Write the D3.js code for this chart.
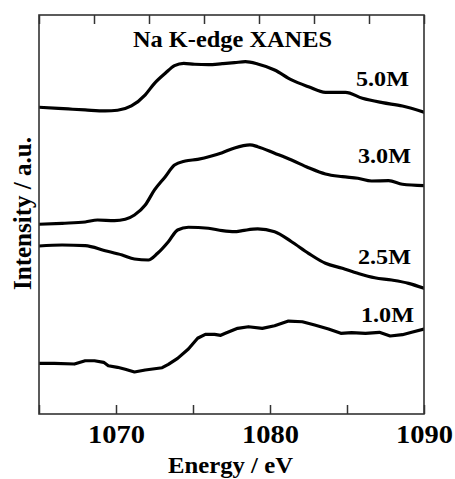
<!DOCTYPE html>
<html>
<head>
<meta charset="utf-8">
<script src="https://cdn.jsdelivr.net/npm/d3@7/dist/d3.min.js"></script>
<style>
  html, body { margin: 0; padding: 0; background: #fff; }
  svg { display: block; }
  text { font-family: "Liberation Serif", "Times New Roman", serif; font-weight: bold; fill: #000; }
</style>
</head>
<body>
<div id="chart"></div>
<script>
// Na K-edge XANES spectra, offset vertically by concentration (arbitrary units)
const energy50 = [1065.0, 1066.9, 1068.0, 1069.3, 1070.1, 1071.0, 1071.9, 1072.5, 1073.2, 1073.8, 1074.4, 1075.1, 1076.0, 1076.9, 1077.7, 1078.4, 1079.2, 1080.3, 1081.4, 1082.5, 1083.6, 1084.9, 1086.0, 1087.3, 1088.6, 1090.0];
const int50    = [3.075, 3.058, 3.048, 3.038, 3.045, 3.088, 3.200, 3.315, 3.416, 3.492, 3.516, 3.506, 3.502, 3.512, 3.522, 3.532, 3.509, 3.449, 3.349, 3.281, 3.225, 3.225, 3.165, 3.121, 3.088, 3.025];

const energy30 = [1065.0, 1066.5, 1068.0, 1068.8, 1069.9, 1070.6, 1071.2, 1071.9, 1072.5, 1073.2, 1073.8, 1074.5, 1075.3, 1076.2, 1076.9, 1077.7, 1078.7, 1079.2, 1080.3, 1081.4, 1082.5, 1083.6, 1084.7, 1085.7, 1086.6, 1087.7, 1088.6, 1090.0];
const int30    = [1.902, 1.912, 1.925, 1.945, 1.938, 1.952, 1.995, 2.095, 2.246, 2.379, 2.496, 2.536, 2.553, 2.586, 2.620, 2.667, 2.697, 2.680, 2.614, 2.546, 2.469, 2.406, 2.379, 2.363, 2.336, 2.339, 2.303, 2.289];

const energy25 = [1065.0, 1066.5, 1068.0, 1069.3, 1070.4, 1071.2, 1072.1, 1072.7, 1073.4, 1074.0, 1074.7, 1076.0, 1076.9, 1077.7, 1078.2, 1079.2, 1080.3, 1081.4, 1082.5, 1083.6, 1084.7, 1085.7, 1086.8, 1087.9, 1089.0, 1090.0];
const int25    = [1.684, 1.694, 1.687, 1.637, 1.594, 1.554, 1.544, 1.611, 1.727, 1.845, 1.872, 1.862, 1.838, 1.828, 1.838, 1.855, 1.828, 1.727, 1.611, 1.511, 1.461, 1.411, 1.366, 1.343, 1.310, 1.260];

const energy10 = [1065.0, 1066.0, 1067.3, 1068.0, 1068.6, 1069.2, 1069.5, 1070.1, 1070.6, 1071.2, 1071.9, 1073.0, 1073.4, 1074.0, 1074.7, 1075.3, 1075.8, 1076.4, 1076.8, 1077.1, 1077.9, 1078.6, 1079.5, 1080.3, 1081.2, 1082.1, 1082.9, 1083.8, 1084.6, 1085.3, 1086.2, 1087.1, 1087.8, 1088.6, 1089.2, 1090.0];
const int10    = [0.508, 0.508, 0.501, 0.534, 0.534, 0.518, 0.484, 0.468, 0.448, 0.421, 0.441, 0.464, 0.498, 0.558, 0.652, 0.759, 0.799, 0.799, 0.789, 0.809, 0.859, 0.875, 0.859, 0.885, 0.932, 0.925, 0.892, 0.852, 0.809, 0.815, 0.809, 0.819, 0.782, 0.795, 0.819, 0.852];

const seriesLabels = ["5.0M", "3.0M", "2.5M", "1.0M"];
const xTicks = [1065, 1070, 1075, 1080, 1085, 1090];
const xTickLabels = ["1070", "1080", "1090"];

const W = 455, H = 479;
const M = { left: 39, right: 424, top: 15, bottom: 414 };

const svg = d3.select("#chart").append("svg")
  .attr("width", W).attr("height", H);

const x = d3.scaleLinear().domain([1065, 1090]).range([M.left, M.right]);
const y = d3.scaleLinear().domain([0, 4]).range([M.bottom, M.top]);

// clip so curves stay inside the frame
svg.append("clipPath").attr("id", "plot-clip")
  .append("rect")
  .attr("x", M.left).attr("y", M.top)
  .attr("width", M.right - M.left).attr("height", M.bottom - M.top);

const series = [
  { label: seriesLabels[0], e: energy50, v: int50, curve: d3.curveMonotoneX },
  { label: seriesLabels[1], e: energy30, v: int30, curve: d3.curveMonotoneX },
  { label: seriesLabels[2], e: energy25, v: int25, curve: d3.curveMonotoneX },
  { label: seriesLabels[3], e: energy10, v: int10, curve: d3.curveLinear }
];

const plot = svg.append("g").attr("clip-path", "url(#plot-clip)");
series.forEach(s => {
  const pts = s.e.map((e, i) => [e, s.v[i]]);
  plot.append("path")
    .datum(pts)
    .attr("fill", "none")
    .attr("stroke", "#000")
    .attr("stroke-width", 3.2)
    .attr("stroke-linejoin", "round")
    .attr("stroke-linecap", "round")
    .attr("d", d3.line().x(d => x(d[0])).y(d => y(d[1])).curve(s.curve));
});

// bottom axis: inward ticks every 5 eV, labels every 10 eV
const bottomAxis = svg.append("g")
  .attr("transform", `translate(0,${M.bottom})`)
  .call(d3.axisBottom(x)
    .tickValues(xTicks)
    .tickSize(-9)
    .tickPadding(11)
    .tickFormat(d => xTickLabels.includes(String(d)) ? String(d) : ""));
bottomAxis.select(".domain").remove();
bottomAxis.selectAll(".tick line").attr("stroke", "#333").attr("stroke-width", 1.5);
bottomAxis.selectAll(".tick text")
  .attr("font-size", 25)
  .attr("font-family", "Liberation Serif, Times New Roman, serif")
  .attr("font-weight", "bold")
  .attr("fill", "#000")
  .each(function () {
    if (this.textContent) d3.select(this).attr("textLength", 57).attr("lengthAdjust", "spacingAndGlyphs");
  });

// top axis: inward ticks dividing the frame in seven
const xTop = d3.scaleLinear().domain([0, 7]).range([M.left, M.right]);
const topAxis = svg.append("g")
  .attr("transform", `translate(0,${M.top})`)
  .call(d3.axisTop(xTop).tickValues(d3.range(0, 8)).tickSize(-9).tickFormat(""));
topAxis.select(".domain").remove();
topAxis.selectAll(".tick line").attr("stroke", "#333").attr("stroke-width", 1.5);

// frame
svg.append("rect")
  .attr("x", M.left).attr("y", M.top)
  .attr("width", M.right - M.left).attr("height", M.bottom - M.top)
  .attr("fill", "none").attr("stroke", "#333").attr("stroke-width", 1.6);

// series labels at the right end of each curve
const labelPos = [
  { end: 409, base: 86 },
  { end: 411, base: 163 },
  { end: 411, base: 264 },
  { end: 414, base: 322 }
];
series.forEach((s, i) => {
  svg.append("text")
    .attr("x", labelPos[i].end)
    .attr("y", labelPos[i].base)
    .attr("text-anchor", "end")
    .attr("font-size", 22)
    .attr("textLength", 53)
    .attr("lengthAdjust", "spacingAndGlyphs")
    .text(s.label);
});

// title
svg.append("text")
  .attr("x", 232.5).attr("y", 47)
  .attr("text-anchor", "middle")
  .attr("font-size", 23)
  .attr("textLength", 199)
  .attr("lengthAdjust", "spacingAndGlyphs")
  .text("Na K-edge XANES");

// axis titles
svg.append("text")
  .attr("x", 230.5).attr("y", 473)
  .attr("text-anchor", "middle")
  .attr("font-size", 23)
  .attr("textLength", 125)
  .attr("lengthAdjust", "spacingAndGlyphs")
  .text("Energy / eV");

svg.append("text")
  .attr("transform", "translate(31,213.5) rotate(-90)")
  .attr("text-anchor", "middle")
  .attr("font-size", 25)
  .attr("textLength", 153)
  .attr("lengthAdjust", "spacingAndGlyphs")
  .text("Intensity / a.u.");
</script>
</body>
</html>
